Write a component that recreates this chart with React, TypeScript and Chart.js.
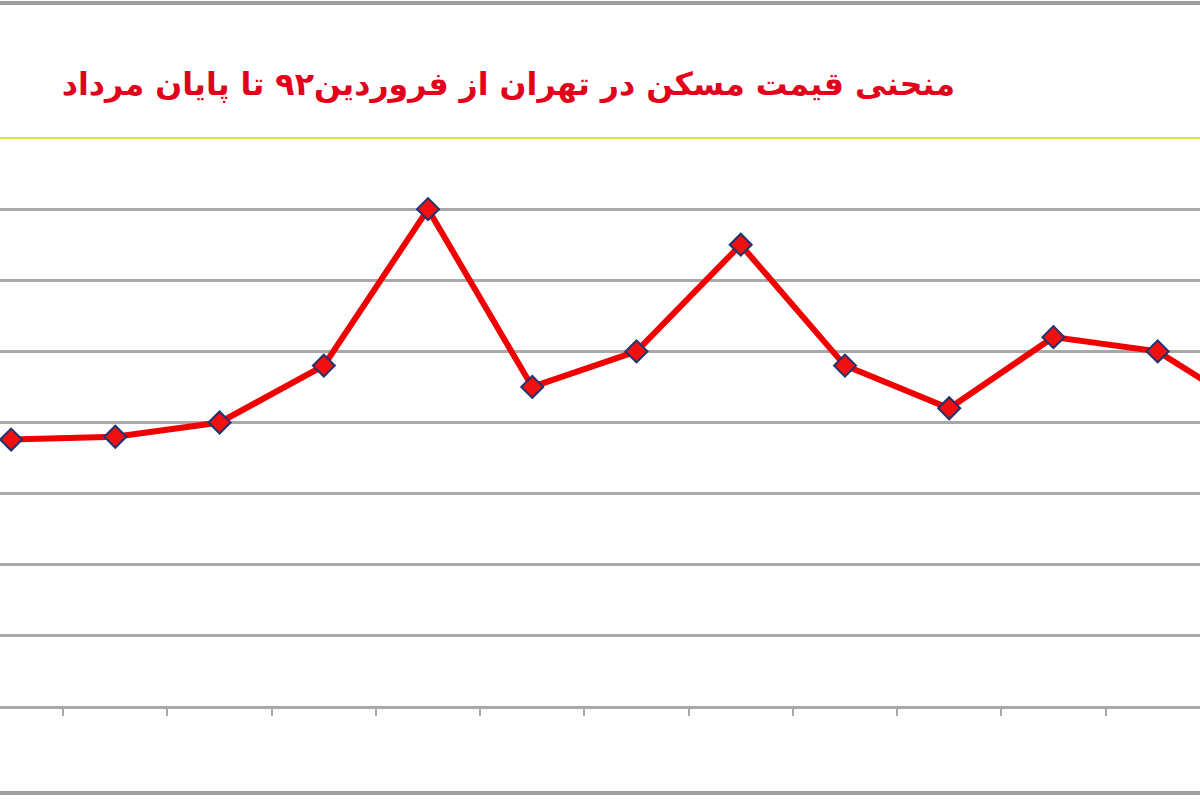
import { useEffect, useRef } from 'react'
import { Chart, registerables } from 'chart.js'

Chart.register(...registerables)

// monthly points, Farvardin 92 onward (only the visible part of the original chart)
const months = ['فروردین ۹۲', 'اردیبهشت', 'خرداد', 'تیر', 'مرداد', 'شهریور', 'مهر', 'آبان', 'آذر', 'دی', 'بهمن', 'اسفند', 'فروردین ۹۳']
const prices = [1880, 1900, 2000, 2400, 3500, 2250, 2500, 3250, 2400, 2100, 2600, 2500, 2040]
const yMin = 0
const yMax = 4000
const yStep = 500
const chartTitle = 'منحنی قیمت مسکن در تهران از فروردین۹۲ تا پایان مرداد'

const GRID_GRAY = '#a9a9a9'

export default function App() {
  const canvasRef = useRef<HTMLCanvasElement>(null)
  const chartInstance = useRef<Chart | null>(null)

  useEffect(() => {
    if (!canvasRef.current) return
    const ctx = canvasRef.current.getContext('2d')
    if (!ctx) return

    chartInstance.current = new Chart(ctx, {
      type: 'line',
      data: {
        labels: months,
        datasets: [{
          label: 'قیمت مسکن',
          data: prices,
          borderColor: '#f00000',
          borderWidth: 6,
          tension: 0,
          fill: false,
          pointStyle: 'rectRot',
          pointRadius: 11,
          pointBackgroundColor: '#f01010',
          pointBorderColor: '#1c3570',
          pointBorderWidth: 2,
          clip: false,
        }]
      },
      options: {
        responsive: true,
        maintainAspectRatio: false,
        animation: false,
        layout: { padding: { top: 20, left: 0, right: 0, bottom: 10 } },
        plugins: {
          legend: { display: false },
          tooltip: { enabled: false },
          title: { display: false },
        },
        scales: {
          x: {
            offset: true,
            grid: {
              offset: true,
              drawOnChartArea: false,
              drawTicks: true,
              tickLength: 9,
              color: GRID_GRAY,
              lineWidth: 2,
            },
            border: { display: true, color: GRID_GRAY, width: 3 },
            ticks: { display: false },
          },
          y: {
            min: yMin,
            max: yMax,
            ticks: { display: false, stepSize: yStep },
            border: { display: false },
            grid: {
              drawTicks: false,
              color: (c) => (c.tick && c.tick.value === yMax ? '#dde236' : GRID_GRAY),
              lineWidth: (c) => (c.tick && c.tick.value === yMax ? 2 : 3),
            },
          }
        }
      }
    })

    return () => {
      if (chartInstance.current) {
        chartInstance.current.destroy()
        chartInstance.current = null
      }
    }
  }, [])

  return (
    <div style={{ position: 'fixed', left: 0, top: 0, width: 1200, height: 800, overflow: 'hidden', background: '#fff' }}>
      <div style={{ position: 'absolute', left: 0, top: 1, width: 1200, height: 4, background: '#a0a0a0' }} />
      <div
        dir="rtl"
        style={{
          position: 'absolute',
          right: 245,
          top: 63,
          whiteSpace: 'nowrap',
          color: '#e2001a',
          fontFamily: '"DejaVu Sans", sans-serif',
          fontWeight: 'bold',
          fontSize: 31.6,
          lineHeight: '42px',
        }}
      >
        {chartTitle}
      </div>
      <div style={{ position: 'absolute', left: -54, top: 118, width: 1381, height: 608 }}>
        <canvas ref={canvasRef}></canvas>
      </div>
      <div style={{ position: 'absolute', left: 0, top: 791, width: 1200, height: 4, background: '#a0a0a0' }} />
    </div>
  )
}
